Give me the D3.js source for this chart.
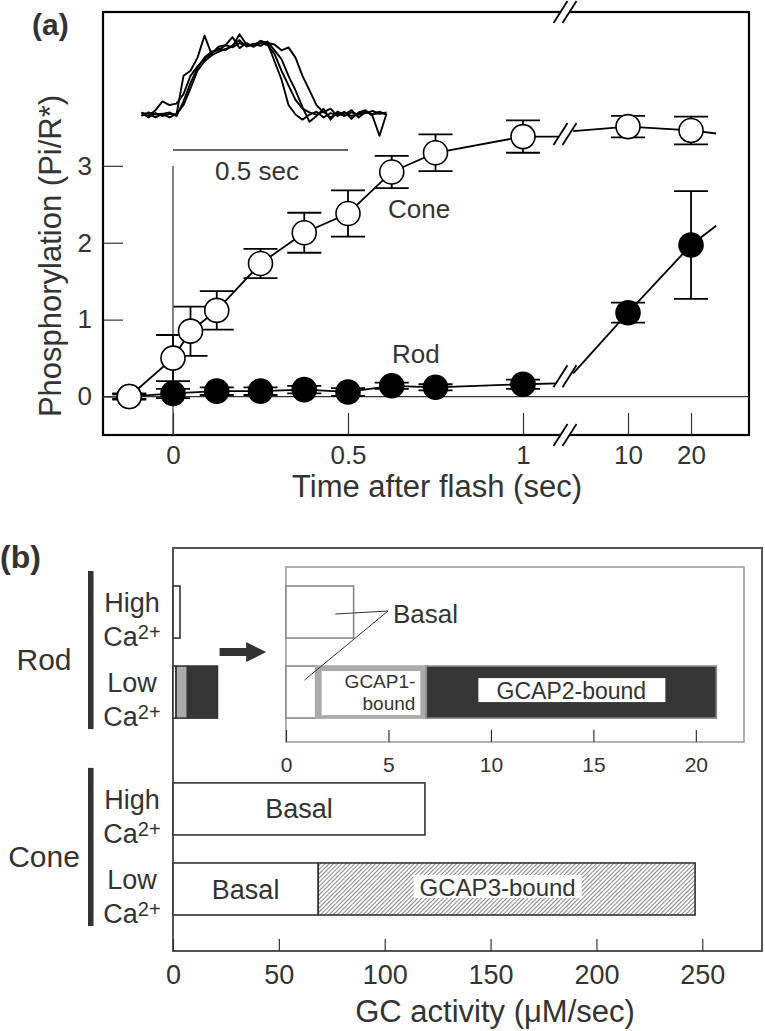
<!DOCTYPE html>
<html lang="en">
<head>
<meta charset="UTF-8">
<title>Phosphorylation and GC activity</title>
<script src="https://d3js.org/d3.v7.min.js"></script>
<style>
  body { margin: 0; background: #fff; }
  svg { display: block; font-family: "Liberation Sans", Arial, Helvetica, sans-serif; }
  text { fill: #333; }
</style>
</head>
<body>
<div id="chart"></div>
<script>
// ---------- panel (a) data ----------
const coneTime = [-0.125, 0, 0.05, 0.125, 0.25, 0.375, 0.5, 0.625, 0.75, 1];
const coneVal  = [0, 0.50, 0.85, 1.12, 1.73, 2.13, 2.38, 2.92, 3.17, 3.38];
const coneErr  = [0.04, 0.30, 0.32, 0.25, 0.19, 0.26, 0.30, 0.21, 0.24, 0.21];
const rodTime  = [-0.125, 0, 0.125, 0.25, 0.375, 0.5, 0.625, 0.75, 1];
const rodVal   = [0, 0.04, 0.07, 0.07, 0.09, 0.06, 0.14, 0.12, 0.16];
const rodErr   = [0.03, 0.06, 0.05, 0.05, 0.05, 0.05, 0.04, 0.04, 0.06];
// points after the axis break (seconds)
const lateTime    = [10, 20];
const coneLateVal = [3.51, 3.46];
const coneLateErr = [0.14, 0.18];
const rodLateVal  = [1.09, 1.97];
const rodLateErr  = [0.13, 0.70];
// line ends: end of part 1, start of part 2, tail past last point
const edgeTime    = [1.1, 1.3, 24];
const coneEdgeVal = [3.38, 3.45, 3.42];
const rodEdgeVal  = [0.17, 0.30, 2.22];

const yTicksA  = [0, 1, 2, 3];
const xTicksA1 = [0, 0.5, 1];
const xTicksA2 = [10, 20];

// inset response traces (normalised)
const traceTime = [-0.09, -0.07, -0.05, -0.03, -0.01, 0.01, 0.03, 0.05, 0.07, 0.09, 0.11, 0.13,
  0.15, 0.17, 0.19, 0.21, 0.23, 0.25, 0.27, 0.29, 0.31, 0.33, 0.35, 0.37, 0.39, 0.41, 0.43, 0.45,
  0.47, 0.49, 0.51, 0.53, 0.55, 0.57, 0.59, 0.61];
const trace1 = [0.05, -0.02, 0.04, 0.00, 0.03, 0.02, 0.55, 0.62, 0.80, 1.10, 0.85, 0.95, 0.97, 0.94,
  1.00, 0.96, 0.98, 1.02, 1.00, 0.75, 0.50, 0.15, 0.02, -0.05, 0.02, 0.06, -0.02, 0.04, 0.01, 0.05,
  0.00, 0.03, 0.06, 0.02, 0.04, 0.03];
const trace2 = [0.00, 0.05, 0.02, 0.03, -0.02, 0.03, 0.15, 0.38, 0.62, 0.75, 0.83, 0.88, 0.92, 0.95,
  1.12, 0.98, 0.95, 1.00, 0.97, 0.85, 0.62, 0.42, 0.22, 0.10, 0.05, 0.02, 0.06, -0.02, 0.04, 0.00,
  0.05, 0.02, 0.04, 0.07, 0.03, 0.05];
const trace3 = [0.02, 0.00, 0.08, 0.20, 0.15, 0.17, 0.30, 0.55, 0.68, 0.78, 0.86, 0.93, 0.90, 0.97,
  1.04, 0.95, 0.99, 0.96, 1.02, 0.90, 0.78, 0.55, 0.35, 0.12, -0.08, 0.00, 0.10, -0.05, 0.06, 0.02,
  0.08, -0.02, 0.05, 0.03, 0.06, 0.02];
const trace4 = [0.04, 0.03, -0.02, 0.03, 0.05, 0.00, 0.20, 0.45, 0.66, 0.80, 0.88, 0.90, 0.97, 1.08,
  0.93, 1.00, 0.95, 1.03, 1.00, 0.98, 0.90, 0.94, 0.80, 0.55, 0.35, 0.15, 0.05, 0.10, 0.00, 0.06,
  -0.04, 0.05, 0.08, 0.00, -0.27, 0.03];

// ---------- panel (b) data ----------
const cellNames = ["Rod", "Cone"];
const rowNames  = ["High", "Low"];
const rodBasal  = [3.3, 1.45];
const rodGcap1  = [0, 5.4];
const rodGcap2  = [0, 14.15];
const coneBasal = [119, 68.6];
const coneGcap3 = [0, 178];
const xTicksB   = [0, 50, 100, 150, 200, 250];
const xTicksIn  = [0, 5, 10, 15, 20];

const width = 765, height = 1031;
const svg = d3.select("#chart").append("svg")
  .attr("width", width).attr("height", height);

const ink = "#333";

// ================= panel (a) =================
const aL = 103, aR = 749, aT = 12, aB = 435, brkX = 565;
const xa1 = d3.scaleLinear().domain([-0.2, 1.12]).range([aL, brkX]);
const xa2 = d3.scaleLinear().domain([0, 29.2]).range([brkX, aR]);
const ya  = d3.scaleLinear().domain([-0.5, 5]).range([aB, aT]);

const ga = svg.append("g");

ga.append("rect").attr("x", aL).attr("y", aT).attr("width", aR - aL).attr("height", aB - aT)
  .attr("fill", "none").attr("stroke", "#000").attr("stroke-width", 2.2);

// zero line
ga.append("line").attr("x1", aL).attr("x2", aR).attr("y1", ya(0)).attr("y2", ya(0))
  .attr("stroke", ink).attr("stroke-width", 1.2);

// axes (ticks inside)
function styleAxis(g, size) {
  g.select(".domain").remove();
  g.selectAll(".tick line").attr("stroke", ink).attr("stroke-width", 1.2);
  g.selectAll(".tick text").attr("fill", ink).style("font-size", size + "px");
}
const fmt = d3.format("~g");
ga.append("g").attr("transform", `translate(${aL},0)`)
  .call(d3.axisLeft(ya).tickValues(yTicksA).tickFormat(fmt)
    .tickSizeInner(-20).tickSizeOuter(0).tickPadding(11))
  .call(g => styleAxis(g, 26));
ga.append("g").attr("transform", `translate(0,${aB})`)
  .call(d3.axisBottom(xa1).tickValues(xTicksA1).tickFormat(fmt)
    .tickSizeInner(-22).tickSizeOuter(0).tickPadding(11))
  .call(g => styleAxis(g, 26));
ga.append("g").attr("transform", `translate(0,${aB})`)
  .call(d3.axisBottom(xa2).tickValues(xTicksA2).tickFormat(fmt)
    .tickSizeInner(-22).tickSizeOuter(0).tickPadding(11))
  .call(g => styleAxis(g, 26));

// flash marker and scale bar
ga.append("line").attr("x1", xa1(0)).attr("x2", xa1(0)).attr("y1", 166).attr("y2", aB)
  .attr("stroke", ink).attr("stroke-width", 1.2);
ga.append("line").attr("x1", xa1(0)).attr("x2", xa1(0.5)).attr("y1", 150).attr("y2", 150)
  .attr("stroke", ink).attr("stroke-width", 1.6);
ga.append("text").attr("x", xa1(0.24)).attr("y", 180).attr("text-anchor", "middle")
  .style("font-size", "26px").text("0.5 sec");

// traces
const yt = d3.scaleLinear().domain([0, 1]).range([116, 43]);
const traceLine = d3.line().x((d, i) => xa1(traceTime[i])).y(d => yt(d));
[trace1, trace2, trace3, trace4].forEach(tr => {
  ga.append("path").attr("d", traceLine(tr)).attr("fill", "none")
    .attr("stroke", "#000").attr("stroke-width", 1.9).attr("stroke-linejoin", "round");
});

// error bars
const cap = 17;
function errorBars(xs, ts, vs, es) {
  const g = ga.append("g").attr("stroke", "#000").attr("stroke-width", 1.8);
  ts.forEach((t, i) => {
    const x = xs(t), lo = ya(vs[i] - es[i]), hi = ya(vs[i] + es[i]);
    g.append("line").attr("x1", x).attr("x2", x).attr("y1", lo).attr("y2", hi);
    g.append("line").attr("x1", x - cap).attr("x2", x + cap).attr("y1", lo).attr("y2", lo);
    g.append("line").attr("x1", x - cap).attr("x2", x + cap).attr("y1", hi).attr("y2", hi);
  });
}
errorBars(xa1, rodTime, rodVal, rodErr);
errorBars(xa2, lateTime, rodLateVal, rodLateErr);
errorBars(xa1, coneTime, coneVal, coneErr);
errorBars(xa2, lateTime, coneLateVal, coneLateErr);

// connecting lines
function drawSeries(ts, vs, lateVs, edgeVs) {
  const p1 = ts.map((t, i) => [xa1(t), ya(vs[i])]).concat([[xa1(edgeTime[0]), ya(edgeVs[0])]]);
  const p2 = [[xa2(edgeTime[1]), ya(edgeVs[1])]]
    .concat(lateTime.map((t, i) => [xa2(t), ya(lateVs[i])]))
    .concat([[xa2(edgeTime[2]), ya(edgeVs[2])]]);
  [p1, p2].forEach(p => ga.append("path").attr("d", d3.line()(p)).attr("fill", "none")
    .attr("stroke", "#000").attr("stroke-width", 1.8));
}
drawSeries(rodTime, rodVal, rodLateVal, rodEdgeVal);
drawSeries(coneTime, coneVal, coneLateVal, coneEdgeVal);

// markers
const r = 12;
function markers(xs, ts, vs, fill) {
  ga.append("g").selectAll("circle").data(ts).join("circle")
    .attr("cx", d => xs(d)).attr("cy", (d, i) => ya(vs[i])).attr("r", r)
    .attr("fill", fill).attr("stroke", "#000").attr("stroke-width", 1.6);
}
markers(xa1, rodTime, rodVal, "#000");
markers(xa2, lateTime, rodLateVal, "#000");
markers(xa1, coneTime, coneVal, "#fff");
markers(xa2, lateTime, coneLateVal, "#fff");

// break marks
function breakMark(cx, cy) {
  const d = 4.5, w = 7, h = 11;
  ga.append("polygon")
    .attr("points", [[cx - d - w, cy + h], [cx - d + w, cy - h], [cx + d + w, cy - h], [cx + d - w, cy + h]].join(" "))
    .attr("fill", "#fff");
  [-d, d].forEach(o => ga.append("line")
    .attr("x1", cx + o - w).attr("y1", cy + h).attr("x2", cx + o + w).attr("y2", cy - h)
    .attr("stroke", "#000").attr("stroke-width", 1.8));
}
breakMark(brkX, aT);
breakMark(brkX, aB);
breakMark(brkX, ya((coneEdgeVal[0] + coneEdgeVal[1]) / 2));
breakMark(brkX, ya((rodEdgeVal[0] + rodEdgeVal[1]) / 2 + 0.03));

// labels
ga.append("text").attr("x", 388).attr("y", 218).style("font-size", "26px").text("Cone");
ga.append("text").attr("x", 392).attr("y", 363).style("font-size", "26px").text("Rod");
ga.append("text").attr("transform", "translate(61,256) rotate(-90)").attr("text-anchor", "middle")
  .style("font-size", "31px").text("Phosphorylation (Pi/R*)");
ga.append("text").attr("x", 437).attr("y", 497).attr("text-anchor", "middle")
  .style("font-size", "31px").text("Time after flash (sec)");
ga.append("text").attr("x", 32).attr("y", 35).style("font-size", "30px")
  .style("font-weight", "bold").text("(a)");

// ================= panel (b) =================
const bL = 173, bR = 762, bT = 548, bB = 951;
const xb = d3.scaleLinear().domain([0, 278.2]).range([bL, bR]);
const yGroup = d3.scaleBand().domain(cellNames).range([573, 928]).paddingInner(0.197);
const yRow = d3.scaleBand().domain(rowNames).range([0, yGroup.bandwidth()])
  .paddingInner(0.35).paddingOuter(0.1625);
const rowTop = (c, rw) => yGroup(c) + yRow(rw);
const rowMid = (c, rw) => rowTop(c, rw) + yRow.bandwidth() / 2;

const defs = svg.append("defs");
const pat = defs.append("pattern").attr("id", "hatch").attr("patternUnits", "userSpaceOnUse")
  .attr("width", 3).attr("height", 3).attr("patternTransform", "rotate(45)");
pat.append("rect").attr("width", 3).attr("height", 3).attr("fill", "#fff");
pat.append("line").attr("x1", 0).attr("y1", 0).attr("x2", 0).attr("y2", 3)
  .attr("stroke", "#444").attr("stroke-width", 1.3);

const gb = svg.append("g");
gb.append("rect").attr("x", bL).attr("y", bT).attr("width", bR - bL).attr("height", bB - bT)
  .attr("fill", "#fff").attr("stroke", "#555").attr("stroke-width", 2);

gb.append("g").attr("transform", `translate(0,${bB})`)
  .call(d3.axisBottom(xb).tickValues(xTicksB).tickSizeInner(-12).tickSizeOuter(0).tickPadding(14))
  .call(g => styleAxis(g, 27));

// stacked segments for each bar
function segs(parts) {
  let acc = 0;
  return parts.map(p => { const s = { x0: acc, x1: acc + p.v, kind: p.kind }; acc += p.v; return s; });
}
const rodRows = rowNames.map((rw, i) => segs([
  { v: rodBasal[i], kind: "basal" }, { v: rodGcap1[i], kind: "g1" }, { v: rodGcap2[i], kind: "g2" }]));
const coneRows = rowNames.map((rw, i) => segs([
  { v: coneBasal[i], kind: "basal" }, { v: coneGcap3[i], kind: "g3" }]));

const fills = { basal: "#fff", g1: "#aaa", g2: "#363636", g3: "url(#hatch)" };

function drawBars(g, xs, cell, rows, stroke) {
  rows.forEach((row, i) => {
    row.filter(s => s.x1 > s.x0).forEach(s => {
      g.append("rect").attr("x", xs(s.x0)).attr("y", rowTop(cell, rowNames[i]))
        .attr("width", xs(s.x1) - xs(s.x0)).attr("height", yRow.bandwidth())
        .attr("fill", fills[s.kind])
        .attr("stroke", s.kind === "g1" && stroke !== ink ? "#aaa" : stroke)
        .attr("stroke-width", 1.6);
    });
  });
}
drawBars(gb, xb, "Rod", rodRows, ink);
drawBars(gb, xb, "Cone", coneRows, ink);

// bar labels
gb.append("text").attr("x", xb(coneBasal[0] / 2)).attr("y", rowMid("Cone", "High") + 9)
  .attr("text-anchor", "middle").style("font-size", "27px").text("Basal");
gb.append("text").attr("x", xb(coneBasal[1] / 2)).attr("y", rowMid("Cone", "Low") + 10)
  .attr("text-anchor", "middle").style("font-size", "27px").text("Basal");
const g3mid = xb(coneBasal[1] + coneGcap3[1] / 2) - 9;
gb.append("rect").attr("x", g3mid - 84).attr("y", rowMid("Cone", "Low") - 14)
  .attr("width", 168).attr("height", 23).attr("fill", "#fff");
gb.append("text").attr("x", g3mid).attr("y", rowMid("Cone", "Low") + 7)
  .attr("text-anchor", "middle").style("font-size", "24px").text("GCAP3-bound");

// group / row labels on the left
cellNames.forEach(c => {
  gb.append("rect").attr("x", 88).attr("y", yGroup(c) - 2).attr("width", 5.5)
    .attr("height", yGroup.bandwidth()).attr("fill", ink);
  gb.append("text").attr("x", 44).attr("y", yGroup(c) + yGroup.bandwidth() / 2 + 18)
    .attr("text-anchor", "middle").style("font-size", "30px").text(c);
  rowNames.forEach(rw => {
    const m = rowMid(c, rw);
    gb.append("text").attr("x", 132).attr("y", m).attr("text-anchor", "middle")
      .style("font-size", "27px").text(rw);
    const t = gb.append("text").attr("x", 132).attr("y", m + 34).attr("text-anchor", "middle")
      .style("font-size", "27px");
    t.append("tspan").text("Ca");
    t.append("tspan").attr("dy", -7).style("font-size", "20px").text("2+");
  });
});

// arrow to the inset
const arY = (rowTop("Rod", "High") + yRow.bandwidth() + rowTop("Rod", "Low")) / 2;
const ax0 = xb(22), ax1 = xb(44);
gb.append("path")
  .attr("d", `M${ax0},${arY - 4}L${ax1 - 20},${arY - 4}L${ax1 - 20},${arY - 10}L${ax1},${arY}` +
    `L${ax1 - 20},${arY + 10}L${ax1 - 20},${arY + 4}L${ax0},${arY + 4}Z`)
  .attr("fill", ink);

// inset
const iL = 286, iR = 744, iT = 567, iB = 742;
const xi = d3.scaleLinear().domain([0, 22.35]).range([iL, iR]);
gb.append("rect").attr("x", iL).attr("y", iT).attr("width", iR - iL).attr("height", iB - iT)
  .attr("fill", "#fff").attr("stroke", "#999").attr("stroke-width", 1.5);
gb.append("g").attr("transform", `translate(0,${iB})`)
  .call(d3.axisBottom(xi).tickValues(xTicksIn).tickSizeInner(-12).tickSizeOuter(0).tickPadding(15))
  .call(g => styleAxis(g, 21));
drawBars(gb, xi, "Rod", rodRows, "#888");

// inset labels
const lowTop = rowTop("Rod", "Low");
const g1a = xi(rodBasal[1]), g1b = xi(rodBasal[1] + rodGcap1[1]);
gb.append("rect").attr("x", g1a + 6).attr("y", lowTop + 5).attr("width", g1b - g1a - 12)
  .attr("height", yRow.bandwidth() - 8).attr("fill", "#fff");
const g1text = gb.append("text").attr("text-anchor", "end").style("font-size", "19px");
g1text.append("tspan").attr("x", g1b - 11).attr("y", lowTop + 22).text("GCAP1-");
g1text.append("tspan").attr("x", g1b - 11).attr("y", lowTop + 44).text("bound");
const g2mid = xi(rodBasal[1] + rodGcap1[1] + rodGcap2[1] / 2);
const lowMid = rowMid("Rod", "Low");
gb.append("rect").attr("x", g2mid - 93).attr("y", lowMid - 14).attr("width", 187)
  .attr("height", 24).attr("fill", "#fff");
gb.append("text").attr("x", g2mid).attr("y", lowMid + 7).attr("text-anchor", "middle")
  .style("font-size", "23px").text("GCAP2-bound");

const bx = 388, by = rowMid("Rod", "High") - 1;
gb.append("text").attr("x", bx + 5).attr("y", by + 12).style("font-size", "26px").text("Basal");
gb.append("line").attr("x1", bx).attr("y1", by).attr("x2", xi(2.4)).attr("y2", by + 3)
  .attr("stroke", ink).attr("stroke-width", 1);
gb.append("line").attr("x1", bx).attr("y1", by).attr("x2", xi(0.9)).attr("y2", lowMid - 12)
  .attr("stroke", ink).attr("stroke-width", 1);

// titles
gb.append("text").attr("x", 495).attr("y", 1022).attr("text-anchor", "middle")
  .style("font-size", "31px").text("GC activity (\u03bcM/sec)");
gb.append("text").attr("x", 0).attr("y", 568).style("font-size", "32px")
  .style("font-weight", "bold").text("(b)");
</script>
</body>
</html>
